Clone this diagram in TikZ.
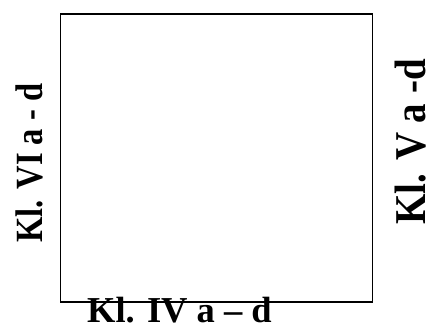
\documentclass[tikz,border=0pt]{standalone}
\usepackage{fontspec}
\usepackage{graphicx}
\setmainfont{Liberation Serif}
\usetikzlibrary{fit}
\begin{document}
\begin{tikzpicture}[x=1pt,y=1pt,
  lbl/.style={inner sep=0pt, font=\bfseries},
  box/.style={draw=black, line width=1.4pt}]
\useasboundingbox (0,0) rectangle (427,325);
\node[box, inner sep=0pt, fit={(60.5,23) (372.5,311)}] (frame) {};
\node[lbl, anchor=base west, font=\bfseries\fontsize{36.5}{36.5}\selectfont] (bottom) at (87,3) {Kl. IV a – d};
\node[lbl, rotate=90, anchor=base west, font=\bfseries\fontsize{38.5}{38.5}\selectfont] (left) at (42.5,82) {\scalebox{0.845}[1]{Kl. VI a - d}};
\node[lbl, rotate=90, anchor=base west, font=\bfseries\fontsize{44}{44}\selectfont] (right) at (425,100) {\scalebox{0.885}[1]{Kl. V a -d}};
\end{tikzpicture}
\end{document}
